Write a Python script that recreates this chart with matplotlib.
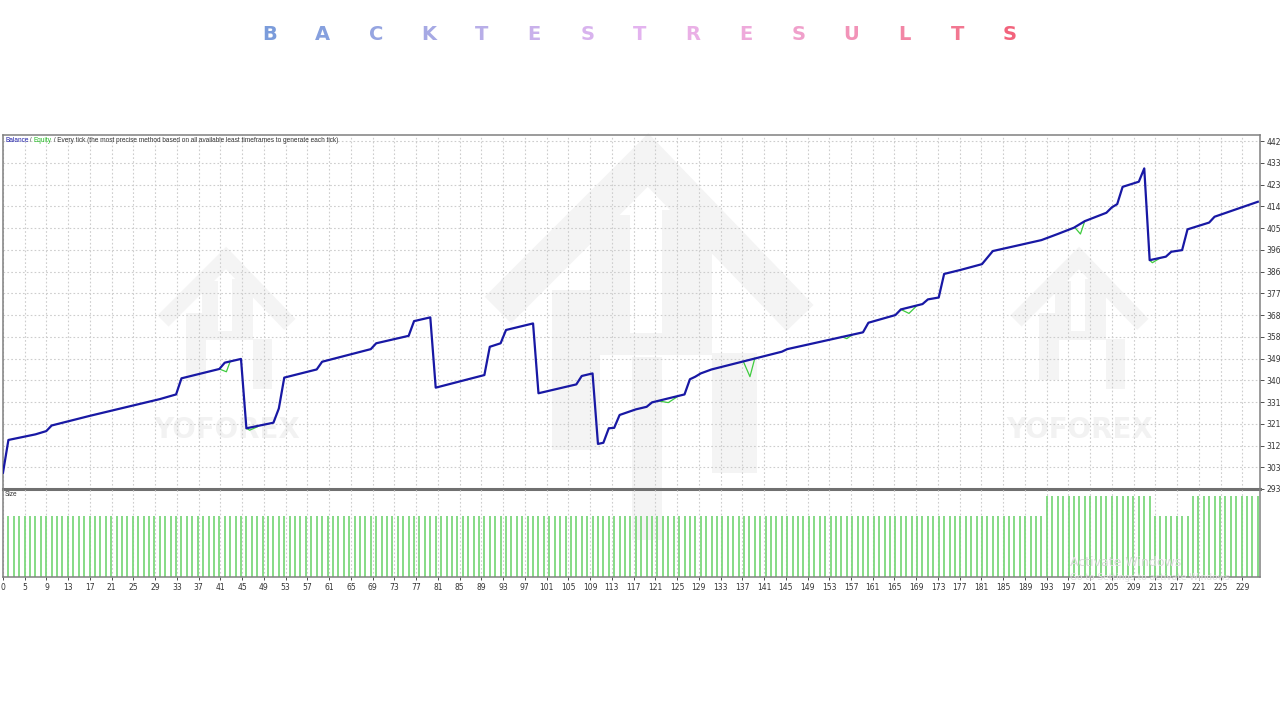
import numpy as np
import matplotlib
matplotlib.use("Agg")
import matplotlib.pyplot as plt
from matplotlib.patches import Rectangle

# ---------------- data ----------------
title_letters = list("BACKTESTRESULTS")
title_colors = ['#7b9cdb', '#86a0de', '#96a5e1', '#a6a9e4', '#b8aee8',
                '#c9b1eb', '#d8b3ee', '#e3b3ef', '#eab0e6', '#eeaadb',
                '#f0a0cb', '#f293b8', '#f286a5', '#f27791', '#f2637c']

# balance curve vertices (trade number, balance)
bal_trade = [0, 1, 6, 8, 9, 16, 29, 32, 33, 40, 41, 44, 45, 50, 51, 52, 58, 59,
             68, 69, 75, 76, 79, 80, 89, 90, 92, 93, 98, 99, 106, 107, 109, 110,
             111, 112, 113, 114, 117, 119, 120, 126, 127, 128, 129, 131, 144, 145,
             159, 160, 165, 166, 170, 171, 173, 174, 177, 181, 183, 188, 192, 195,
             198, 200, 204, 205, 206, 207, 210, 211, 212, 215, 216, 218, 219, 223,
             224, 232]
bal_value = [300.0, 314.0, 316.4, 317.8, 320.2, 324.3, 331.5, 333.5, 340.4, 344.4,
             347.1, 348.7, 319.0, 321.4, 327.5, 340.7, 344.2, 347.5, 352.9, 355.4,
             358.6, 364.9, 366.5, 336.4, 341.8, 353.9, 355.4, 361.1, 363.9, 334.0,
             337.8, 341.4, 342.5, 312.3, 312.8, 319.0, 319.2, 324.7, 327.1, 328.2,
             330.1, 333.5, 340.0, 341.1, 342.5, 344.2, 351.8, 352.9, 360.1, 364.2,
             367.5, 369.9, 372.2, 374.2, 375.0, 385.1, 386.8, 389.3, 394.9, 397.5,
             399.6, 402.2, 404.9, 407.7, 411.3, 413.6, 415.0, 422.4, 424.6, 430.3,
             391.0, 392.5, 394.6, 395.3, 404.2, 407.1, 409.6, 416.0]

# equity excursions below the balance line (trade positions, equity)
equity_dip_trades = [[40, 41.3, 42], [45, 45.6, 47], [121, 123, 125],
                     [136.9, 138.1, 139.0], [155, 156, 157], [166, 167.5, 169],
                     [198.2, 199.2, 200.0], [212, 212.5, 214]]
equity_dip_values = [[344.4, 343.2, 347.6], [319.0, 318.2, 319.6], [330.8, 330.0, 333.0],
                     [347.5, 341.1, 349.0], [358.3, 357.4, 359.0], [369.9, 368.2, 371.6],
                     [404.9, 402.2, 407.7], [391.0, 389.9, 392.0]]

# lot size per trade, as runs
size_run_lengths = [192, 20, 7, 13]
size_run_lots = [0.03, 0.04, 0.03, 0.04]

ytick_labels = ['293', '303', '312', '321', '331', '340', '349', '358', '368',
                '377', '386', '396', '405', '414', '423', '433', '442']
xtick_labels = ['0', '5', '9', '13', '17', '21', '25', '29', '33', '37', '41', '45',
                '49', '53', '57', '61', '65', '69', '73', '77', '81', '85', '89', '93',
                '97', '101', '105', '109', '113', '117', '121', '125', '129', '133',
                '137', '141', '145', '149', '153', '157', '161', '165', '169', '173',
                '177', '181', '185', '189', '193', '197', '201', '205', '209', '213',
                '217', '221', '225', '229']

info_parts = ["Balance", " / ", "Equity",
              " / Every tick (the most precise method based on all available least timeframes to generate each tick)"]
info_colors = ['#1c1ca8', '#444444', '#22bb22', '#333333']

# ---------------- figure ----------------
W, H = 1280, 720
fig = plt.figure(figsize=(12.8, 7.2), dpi=100)
fig.patch.set_facecolor('white')

# watermark layer (pixel coordinates)
bg = fig.add_axes([0, 0, 1, 1], zorder=-1)
bg.set_xlim(0, W)
bg.set_ylim(H, 0)
bg.axis('off')
wm = '#f4f4f4'


def draw_logo(ax, ax0, ay0, s, stem=True):
    ax.plot([ax0 - 150 * s, ax0, ax0 + 152 * s], [ay0 + 150 * s, ay0, ay0 + 158 * s],
            color=wm, lw=27 * s, solid_joinstyle='miter', solid_capstyle='butt', zorder=1)
    rects = [(-96, 130, 48, 160), (-58, 55, 40, 120), (14, 50, 50, 125),
             (-58, 173, 122, 22), (64, 193, 45, 120)]
    if stem:
        rects.append((-16, 197, 30, 183))
    for (rx, ry, rw, rh) in rects:
        ax.add_patch(Rectangle((ax0 + rx * s, ay0 + ry * s), rw * s, rh * s,
                               facecolor=wm, edgecolor='none', zorder=1))


draw_logo(bg, 648, 160, 1.0)
draw_logo(bg, 226, 258, 0.42, stem=False)
draw_logo(bg, 1079, 258, 0.42, stem=False)
for cx in (227, 1080):
    bg.text(cx, 430, "YOFOREX", ha='center', va='center', fontsize=20,
            fontweight='bold', color='#f2f2f2', zorder=1)

# title letters
xs = np.linspace(270, 1010, len(title_letters))
for ch, col, x in zip(title_letters, title_colors, xs):
    fig.text(x / W, 1 - 35 / H, ch, ha='center', va='center', fontsize=14,
             fontweight='bold', color=col, family='DejaVu Sans')

# main axes
left, right = 3, 1260
ax = fig.add_axes([left / W, (H - 489) / H, (right - left) / W, 354 / H])
ax_s = fig.add_axes([left / W, (H - 577) / H, (right - left) / W, 88 / H])
for a in (ax, ax_s):
    a.set_facecolor('none')

n_trades = int(np.sum(size_run_lengths))
xmax = 232.4
ymin, ymax = 293.0, 444.6
ax.set_xlim(0, xmax)
ax.set_ylim(ymin, ymax)
ax_s.set_xlim(0, xmax)
ax_s.set_ylim(0, 0.0433)

ytick_pos = np.linspace(float(ytick_labels[0]), float(ytick_labels[-1]), len(ytick_labels))
xtick_pos = np.arange(len(xtick_labels)) * 4.02

grid_kw = dict(color='#cdcdcd', linestyle=(0, (1.5, 2.0)), linewidth=0.8)

ax.yaxis.tick_right()
ax.set_yticks(ytick_pos)
ax.set_yticklabels(ytick_labels)
ax.set_xticks(xtick_pos)
ax.tick_params(axis='x', length=0, labelbottom=False)
ax.tick_params(axis='y', length=3, width=0.6, colors='#333333', labelsize=5.5, pad=1.5)
ax.grid(True, **grid_kw)
ax.set_axisbelow(True)

ax_s.set_xticks(xtick_pos)
ax_s.set_xticklabels(xtick_labels)
ax_s.set_yticks([])
ax_s.tick_params(axis='x', length=2.5, width=0.6, colors='#333333', labelsize=5.5, pad=1.5)
ax_s.grid(True, axis='x', **grid_kw)
ax_s.set_axisbelow(True)

for a in (ax, ax_s):
    for sp in a.spines.values():
        sp.set_color('#808080')
        sp.set_linewidth(1.1)
ax.spines['bottom'].set_linewidth(2.2)
ax.spines['bottom'].set_color('#707070')
ax_s.spines['top'].set_visible(False)

# equity dips (under the balance line)
for xt, yv in zip(equity_dip_trades, equity_dip_values):
    ax.plot(xt, yv, color='#3ecb3e', lw=0.9, zorder=2)
# balance
ax.plot(bal_trade, bal_value, color='#1818a4', lw=1.6, zorder=3,
        solid_joinstyle='round')

# size bars
sizes = np.repeat(size_run_lots, size_run_lengths)
trades = np.arange(1, n_trades + 1)
ax_s.vlines(trades, 0, sizes, color='#7dd87d', lw=1.3)

# info line (multi-colour)
t = ax.text(2 / (right - left), 1 - 6 / 354, info_parts[0], transform=ax.transAxes,
            fontsize=4.7, color=info_colors[0], va='center', ha='left',
            family='Liberation Sans')
for part, col in zip(info_parts[1:], info_colors[1:]):
    t = ax.annotate(part, xy=(1, 0), xycoords=t, va='bottom', ha='left',
                    fontsize=4.7, color=col, family='Liberation Sans')

ax_s.text(2 / (right - left), 1 - 6 / 88, "Size", transform=ax_s.transAxes,
          fontsize=4.7, color='#333333', va='center', ha='left', family='Liberation Sans')

# screen-capture overlay text
fig.text(1070 / W, 1 - 562 / H, "Activate Windows", fontsize=9, color='#dadada',
         va='center', ha='left', zorder=5)
fig.text(1070 / W, 1 - 577 / H, "Go to Settings to activate Windows.", fontsize=6.5,
         color='#e0e0e0', va='center', ha='left', zorder=5)

fig.savefig('out.png', dpi=100, facecolor='white')
